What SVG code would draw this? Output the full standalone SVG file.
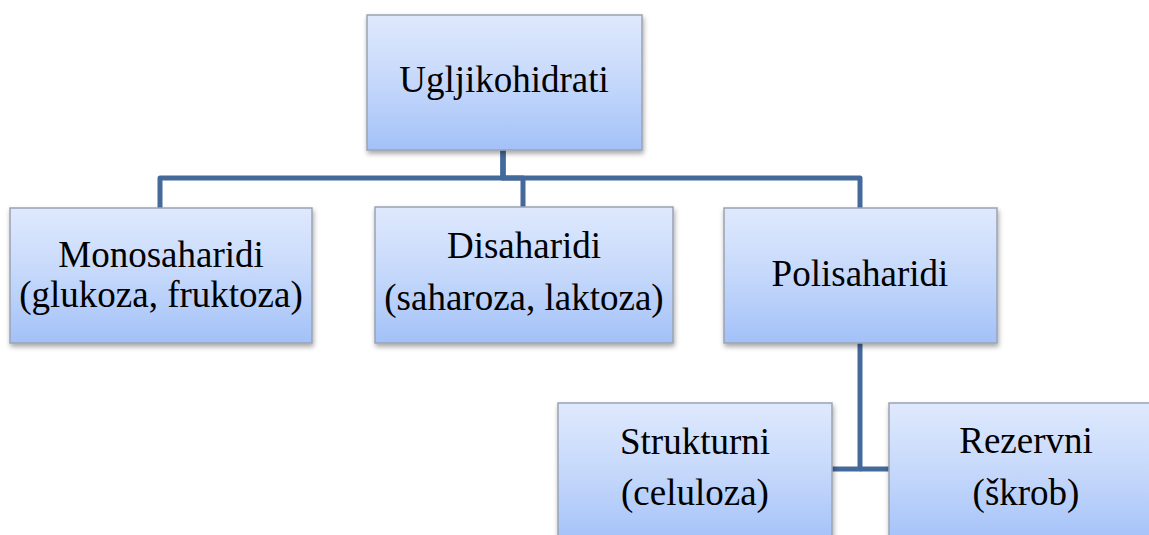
<svg xmlns="http://www.w3.org/2000/svg" width="1149" height="535" viewBox="0 0 1149 535">
<defs>
<linearGradient id="g" x1="0" y1="0" x2="0" y2="1">
<stop offset="0" stop-color="#dfe9fd"/>
<stop offset="0.5" stop-color="#c5d8fb"/>
<stop offset="1" stop-color="#a3c1f8"/>
</linearGradient>
<filter id="sh" x="-10%" y="-10%" width="120%" height="130%">
<feDropShadow dx="1" dy="3" stdDeviation="2.5" flood-color="#000" flood-opacity="0.35"/>
</filter>
</defs>
<style>
.box{fill:url(#g);stroke:#9aa3b3;stroke-width:1.5;filter:url(#sh)}
.t{font-family:"Liberation Serif",serif;font-size:37px;fill:#000;text-anchor:middle}
.c{fill:none;stroke:#44699b;stroke-width:5;stroke-linejoin:round}
</style>
<rect width="1149" height="535" fill="#fff"/>
<g id="connectors">
<path class="c" d="M503,150 V178 H160 V208"/>
<path class="c" d="M503,150 V178 H523 V207"/>
<path class="c" d="M503,150 V178 H860 V208"/>
<path class="c" d="M860,343 V469 H832"/>
<path class="c" d="M860,469 H889"/>
</g>
<g id="n-ugljikohidrati">
<rect class="box" x="367" y="15" width="275" height="135"/>
<text class="t" font-family="Liberation Serif" x="504" y="92">Ugljikohidrati</text>
</g>
<g id="n-monosaharidi">
<rect class="box" x="10" y="208" width="302" height="135"/>
<text class="t" font-family="Liberation Serif" x="161" y="267">Monosaharidi</text>
<text class="t" font-family="Liberation Serif" x="161" y="307">(glukoza, fruktoza)</text>
</g>
<g id="n-disaharidi">
<rect class="box" x="375" y="207" width="298" height="136"/>
<text class="t" font-family="Liberation Serif" x="524" y="258">Disaharidi</text>
<text class="t" font-family="Liberation Serif" x="524" y="310">(saharoza, laktoza)</text>
</g>
<g id="n-polisaharidi">
<rect class="box" x="724" y="208" width="273" height="135"/>
<text class="t" font-family="Liberation Serif" x="860" y="286">Polisaharidi</text>
</g>
<g id="n-strukturni">
<rect class="box" x="558" y="403" width="274" height="140"/>
<text class="t" font-family="Liberation Serif" x="695" y="454">Strukturni</text>
<text class="t" font-family="Liberation Serif" x="695" y="505">(celuloza)</text>
</g>
<g id="n-rezervni">
<rect class="box" x="889" y="403" width="274" height="140"/>
<text class="t" font-family="Liberation Serif" x="1026" y="453">Rezervni</text>
<text class="t" font-family="Liberation Serif" x="1026" y="505">(škrob)</text>
</g>
</svg>
